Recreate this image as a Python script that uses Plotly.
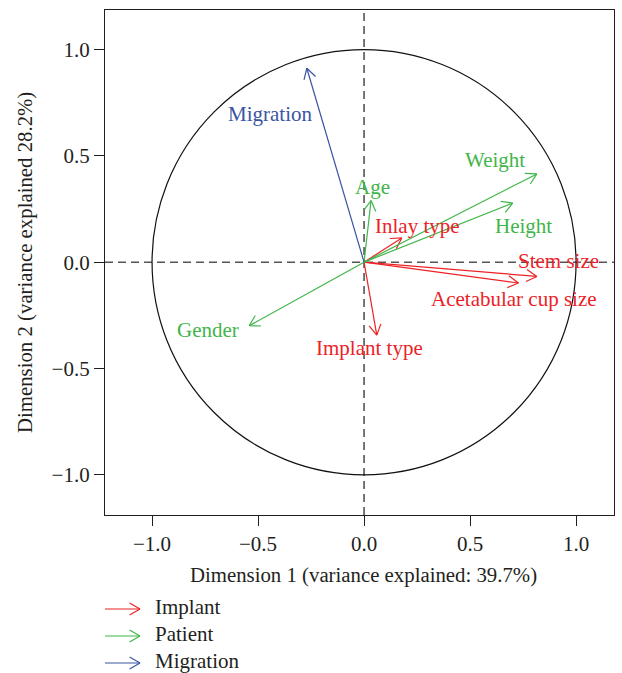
import numpy as np
import plotly.graph_objects as go

# ---- data ----
implant_vars = ["Inlay type", "Stem size", "Acetabular cup size", "Implant type"]
implant_x = [0.178, 0.815, 0.728, 0.060]
implant_y = [0.114, -0.067, -0.098, -0.343]

patient_vars = ["Age", "Weight", "Height", "Gender"]
patient_x = [0.033, 0.815, 0.701, -0.542]
patient_y = [0.290, 0.415, 0.278, -0.299]

migration_vars = ["Migration"]
migration_x = [-0.270]
migration_y = [0.912]

tick_vals = [-1.0, -0.5, 0.0, 0.5, 1.0]
legend_names = ["Implant", "Patient", "Migration"]
x_title = "Dimension 1 (variance explained: 39.7%)"
y_title = "Dimension 2 (variance explained 28.2%)"

# ---- styling / layout (not data) ----
RED = "#ec2227"
GREEN = "#3fb54a"
BLUE = "#3a54a4"
TXT = "#231f20"
FONT = "Liberation Serif"
FS_TICK = 21
FS_LAB = 21
FS_LEG = 21
FS_TITLE = 20.8

label_off = {
    "Inlay type": (0.072, 0.058),
    "Stem size": (0.100, 0.074),
    "Acetabular cup size": (-0.020, -0.074),
    "Implant type": (-0.032, -0.059),
    "Age": (0.005, 0.065),
    "Weight": (-0.197, 0.067),
    "Height": (0.049, -0.106),
    "Gender": (-0.194, -0.019),
    "Migration": (-0.173, -0.215),
}

W, H = 622, 673
ML, MR, MT, MB = 105, 8, 10, 158
XR = [-1.222, 1.179]
YR = [-1.189, 1.186]
pw = W - ML - MR
ph = H - MT - MB
sx = pw / (XR[1] - XR[0])
sy = ph / (YR[1] - YR[0])

HEAD_PX = 12
ANG = np.deg2rad(30)


def arrow_xy(xs, ys):
    X, Y = [], []
    for x, y in zip(xs, ys):
        X += [0, x, None]
        Y += [0, y, None]
        dx, dy = x * sx, y * sy
        L = np.hypot(dx, dy)
        ux, uy = dx / L, dy / L
        for s in (1, -1):
            c, sn = np.cos(s * ANG), np.sin(s * ANG)
            bx = -(ux * c - uy * sn) * HEAD_PX
            by = -(ux * sn + uy * c) * HEAD_PX
            X += [x + bx / sx, x, None]
            Y += [y + by / sy, y, None]
    return X, Y


fig = go.Figure()

groups = [
    (implant_vars, implant_x, implant_y, RED),
    (patient_vars, patient_x, patient_y, GREEN),
    (migration_vars, migration_x, migration_y, BLUE),
]

fig.add_shape(type="circle", xref="x", yref="y", x0=-1, y0=-1, x1=1, y1=1,
              line=dict(color="#111111", width=1.2), layer="below")
fig.add_shape(type="line", xref="x", yref="paper", x0=0, x1=0, y0=0, y1=1,
              line=dict(color="#555555", width=1.6, dash="8px,5px"), layer="below")
fig.add_shape(type="line", xref="paper", yref="y", x0=0, x1=1, y0=0, y1=0,
              line=dict(color="#555555", width=1.6, dash="8px,5px"), layer="below")

for names, xs, ys, col in groups:
    X, Y = arrow_xy(xs, ys)
    fig.add_trace(go.Scatter(x=X, y=Y, mode="lines", line=dict(color=col, width=1.2),
                             hoverinfo="skip", showlegend=False))
    for n, x, y in zip(names, xs, ys):
        ox, oy = label_off[n]
        fig.add_annotation(x=x + ox, y=y + oy, xref="x", yref="y", text=n,
                           showarrow=False, font=dict(family=FONT, size=FS_LAB, color=col),
                           xanchor="center", yanchor="middle")


def px2paper(px, py):
    return (px - ML) / pw, (H - MB - py) / ph


leg_y = [609, 636, 663]
leg_cols = [RED, GREEN, BLUE]
for name, col, py in zip(legend_names, leg_cols, leg_y):
    x0, y0 = px2paper(105, py)
    x1, _ = px2paper(140, py)
    fig.add_shape(type="line", xref="paper", yref="paper", x0=x0, x1=x1, y0=y0, y1=y0,
                  line=dict(color=col, width=1.2))
    for s in (1, -1):
        hx, hy = px2paper(140 - HEAD_PX * np.cos(ANG), py - s * HEAD_PX * np.sin(ANG))
        fig.add_shape(type="line", xref="paper", yref="paper", x0=hx, x1=x1, y0=hy, y1=y0,
                      line=dict(color=col, width=1.2))
    tx, ty = px2paper(153, py - 2)
    fig.add_annotation(x=tx, y=ty, xref="paper", yref="paper", text=name, showarrow=False,
                       xanchor="left", yanchor="middle",
                       font=dict(family=FONT, size=FS_LEG, color=TXT))

# x-axis title as annotation (centered under x = 0 like the reference)
tx, ty = px2paper(363, 575)
fig.add_annotation(x=tx, y=ty, xref="paper", yref="paper", text=x_title, showarrow=False,
                   xanchor="center", yanchor="middle",
                   font=dict(family=FONT, size=FS_TITLE, color=TXT))
tx, ty = px2paper(25, 263)
fig.add_annotation(x=tx, y=ty, xref="paper", yref="paper", text=y_title, showarrow=False,
                   xanchor="center", yanchor="middle", textangle=-90,
                   font=dict(family=FONT, size=FS_TITLE, color=TXT))

axis_common = dict(
    showgrid=False, zeroline=False, showline=True, mirror=True,
    linecolor="#231f20", linewidth=1.2,
    ticks="outside", ticklen=10, tickwidth=1.2, tickcolor="#231f20",
    tickvals=tick_vals, ticktext=[f"{v:.1f}".replace("-", "\u2212") for v in tick_vals],
    tickfont=dict(family=FONT, size=FS_TICK, color=TXT),
)

fig.update_layout(
    width=W, height=H,
    margin=dict(l=ML, r=MR, t=MT, b=MB),
    paper_bgcolor="white", plot_bgcolor="white",
    xaxis=dict(range=XR, **axis_common),
    yaxis=dict(range=YR, **axis_common),
    showlegend=False,
)

fig.write_html("out.html")
